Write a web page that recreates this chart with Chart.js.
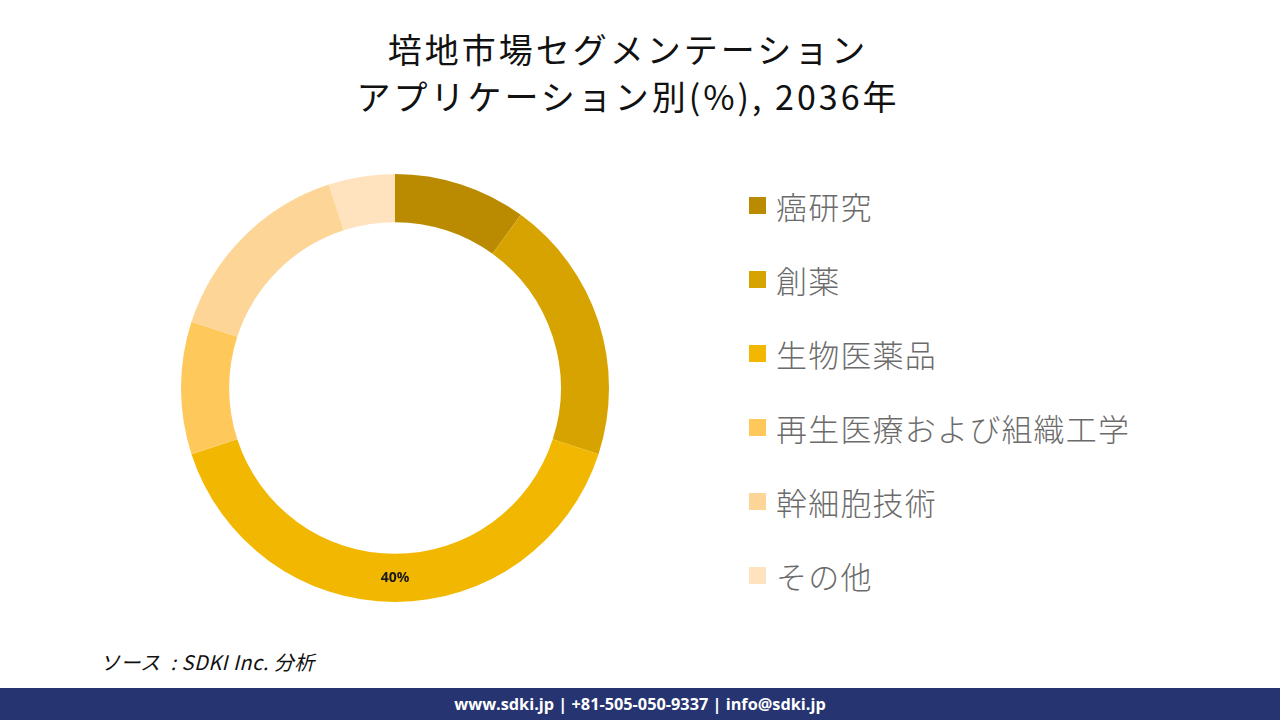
<!DOCTYPE html>
<html lang="ja">
<head>
<meta charset="utf-8">
<script src="https://cdn.jsdelivr.net/npm/chart.js@4.4.1/dist/chart.umd.min.js"></script>
<style>
  html, body { margin: 0; padding: 0; background: #ffffff; }
  body { width: 1280px; height: 720px; position: relative; overflow: hidden; font-family: "Noto Sans CJK JP", "Noto Sans", sans-serif; }
  #title { position: absolute; left: 0; top: 25px; width: 1256px; text-align: center; font-family: "Noto Sans CJK JP", serif; font-size: 34px; letter-spacing: 3px; line-height: 47px; color: #111; font-weight: 400; }
  #chartBox { position: absolute; left: 181px; top: 174px; width: 428px; height: 428px; }
  #legend { position: absolute; left: 749px; top: 168px; }
  .li { height: 74px; display: flex; align-items: center; }
  .sw { width: 17px; height: 17px; margin-right: 10px; }
  .lt { font-size: 31px; letter-spacing: 1.2px; color: #6b6b6b; font-family: "Noto Sans CJK JP", sans-serif; font-weight: 300; }
  #source { position: absolute; left: 100px; top: 647px; font-size: 20px; letter-spacing: 0.5px; font-style: italic; color: #111; font-family: "Noto Sans CJK JP", "Open Sans", sans-serif; }
  #footer { position: absolute; left: 0; top: 688px; width: 1280px; height: 32px; background: #263571; color: #fff; font-family: "Open Sans", "DejaVu Sans", sans-serif; font-weight: 700; font-size: 16.3px; text-align: center; line-height: 32px; }
</style>
</head>
<body>
<div id="title">培地市場セグメンテーション<br>アプリケーション別(%), 2036年</div>
<div id="chartBox"><canvas id="c"></canvas></div>
<div id="legend"></div>
<div id="source">ソース&nbsp; : SDKI Inc. 分析</div>
<div id="footer">www.sdki.jp | +81-505-050-9337 | info@sdki.jp</div>
<script>
const categories = ["癌研究", "創薬", "生物医薬品", "再生医療および組織工学", "幹細胞技術", "その他"];
const shares = [10, 20, 40, 10, 15, 5];
const colors = ["#BA8B00", "#D7A300", "#F2B700", "#FEC85A", "#FDD597", "#FFE3BF"];
const shownLabels = ["", "", "40%", "", "", ""];

const legend = document.getElementById('legend');
categories.forEach((name, i) => {
  const row = document.createElement('div');
  row.className = 'li';
  row.innerHTML = '<div class="sw" style="background:' + colors[i] + '"></div><div class="lt">' + name + '</div>';
  legend.appendChild(row);
});

const labelPlugin = {
  id: 'segLabels',
  afterDatasetsDraw(chart) {
    const ctx = chart.ctx;
    const meta = chart.getDatasetMeta(0);
    ctx.save();
    ctx.font = 'bold 14px "Open Sans", "DejaVu Sans", sans-serif';
    ctx.fillStyle = '#1a1a1a';
    ctx.textAlign = 'center';
    ctx.textBaseline = 'middle';
    meta.data.forEach((arc, i) => {
      if (!shownLabels[i]) return;
      const p = arc.tooltipPosition();
      ctx.fillText(shownLabels[i], p.x, p.y);
    });
    ctx.restore();
  }
};

new Chart(document.getElementById('c'), {
  type: 'doughnut',
  data: {
    labels: categories,
    datasets: [{
      data: shares,
      backgroundColor: colors,
      borderWidth: 0,
      hoverOffset: 0
    }]
  },
  options: {
    responsive: true,
    maintainAspectRatio: false,
    animation: false,
    cutout: '77.5%',
    layout: { padding: 0 },
    plugins: {
      legend: { display: false },
      tooltip: { enabled: false },
      title: { display: false }
    }
  },
  plugins: [labelPlugin]
});
</script>
</body>
</html>
